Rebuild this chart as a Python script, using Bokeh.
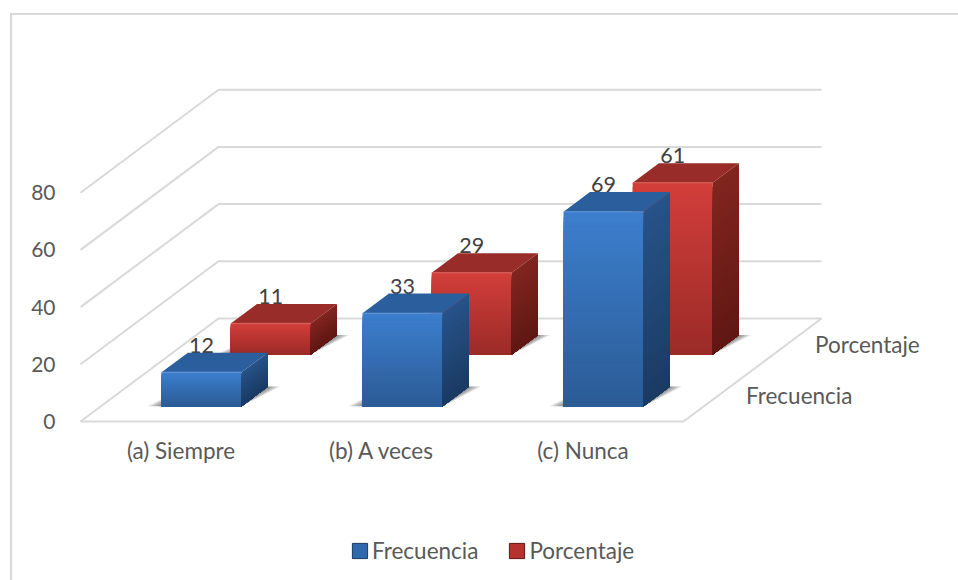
import numpy as np
from bokeh.core.properties import value
from bokeh.embed import file_html
from bokeh.models import FixedTicker, Legend, LegendItem, Range1d
from bokeh.plotting import figure
from bokeh.resources import INLINE

# ---- data ----
categories = ["(a) Siempre", "(b) A veces", "(c) Nunca"]
frecuencia = [12, 33, 69]
porcentaje = [11, 29, 61]
series_names = ["Frecuencia", "Porcentaje"]
y_ticks = [0, 20, 40, 60, 80]

# ---- styles / projection ----
FONT = "Lato"
TXT = "#595959"
GRID = "#d9d9d9"
PX_X = 201.0      # px per category
PX_Y = 2.86       # px per value unit
DX = 138 / PX_X   # full depth offset, in category units
DY = 103 / PX_Y   # full depth offset, in value units
BAR_SCALE = 0.985
BAR_W = 0.398
BAR_L = 0.301
ROWS = [(0.149, 0.34), (0.65, 0.84)]

PAL = [
    dict(ft="#3c7ecd", fb="#2b5b95", st="#275389", sb="#1a3a62", top="#2a5e9c", edge="#5f97dc", sw="#2f68ab"),
    dict(ft="#d23e3a", fb="#9a2a27", st="#82251f", sb="#5f1713", top="#982c29", edge="#e2605b", sw="#b5322e"),
]


def lerp(a, b, t):
    a = np.array([int(a[i:i + 2], 16) for i in (1, 3, 5)])
    b = np.array([int(b[i:i + 2], 16) for i in (1, 3, 5)])
    c = (a + (b - a) * t).round().astype(int)
    return "#%02x%02x%02x" % tuple(c)


def proj(u, d, v):
    return u + d * DX, v + d * DY


border_css = ("linear-gradient(#d9d9d9,#d9d9d9) 10px 13px/948px 2px no-repeat,"
              "linear-gradient(#d9d9d9,#d9d9d9) 10px 13px/2px 567px no-repeat")

p = figure(width=958, height=580, output_backend="svg", toolbar_location=None,
           x_range=Range1d((62 - 80) / PX_X, (958 - 80) / PX_X),
           y_range=Range1d((421 - 580) / PX_Y, 421 / PX_Y),
           min_border_left=62, min_border_right=0, min_border_top=0, min_border_bottom=0,
           outline_line_color=None, background_fill_color=None, border_fill_color=None,
           styles={"background": border_css})
p.grid.visible = False

for ax in (p.yaxis[0], p.xaxis[0]):
    ax.axis_line_color = None
    ax.major_tick_line_color = None
    ax.minor_tick_line_color = None
    ax.major_label_text_font = FONT
    ax.major_label_text_color = TXT
p.yaxis[0].major_label_text_font_size = "21px"
p.xaxis[0].major_label_text_font_size = "22.5px"
p.yaxis[0].ticker = FixedTicker(ticks=y_ticks)
p.yaxis[0].major_label_standoff = 1
p.xaxis[0].ticker = FixedTicker(ticks=[0.5, 1.5, 2.5])
p.xaxis[0].major_label_overrides = {0.5: categories[0], 1.5: categories[1], 2.5: categories[2]}
p.xaxis[0].major_label_standoff = 7
p.xaxis[0].fixed_location = (421 - 423) / PX_Y

# walls and floor
gx, gy = [], []
for t in y_ticks:
    gx.append([0, DX, 3 + DX])
    gy.append([t, t + DY, t + DY])
gx.append([0, 3, 3 + DX])
gy.append([0, 0, DY])
p.multi_line(gx, gy, line_color=GRID, line_width=2)

# depth axis labels
for name, d in zip(series_names, [0.25, 0.75]):
    x, y = proj(3, d, 0)
    p.text([x], [y], text=[name], text_font=value(FONT), text_font_size="22.5px", text_color=TXT,
           text_align="left", text_baseline="middle", x_offset=28)

# data labels (behind the bars)
for vals, (d0, d1) in zip([porcentaje, frecuencia], [ROWS[1], ROWS[0]]):
    for i, v in enumerate(vals):
        x, y = proj(i + BAR_L + BAR_W / 2, d0, v * BAR_SCALE)
        p.text([x], [y], text=[str(v)], text_font=value(FONT), text_font_size="21.5px", text_color="#404040",
               text_align="center", text_baseline="middle", y_offset=-27)

# bars, back row first
N = 40
legend_r = {}
for vals, (d0, d1), pal, name in [(porcentaje, ROWS[1], PAL[1], series_names[1]),
                                  (frecuencia, ROWS[0], PAL[0], series_names[0])]:
    xs, ys, cs = [], [], []
    # soft shadows
    sxs, sys = [], []
    for grow in (1.0, 0.75, 0.5, 0.25):
        for i in range(len(vals)):
            l, r = i + BAR_L, i + BAR_L + BAR_W
            ex = grow * 14 / PX_X
            xa, ya = proj(l - ex, d0, 0)
            xb, yb = proj(r, d0, 0)
            xc, yc = proj(r + ex * 0.85, d1, 0)
            xd, yd = proj(l, d1, 0)
            sxs.append([xa, xb, xc, xd])
            sys.append([ya, yb, yc, yd])
    p.patches(sxs, sys, fill_color="#303030", fill_alpha=0.16, line_color=None)

    for i, v in enumerate(vals):
        h = v * BAR_SCALE
        l, r = i + BAR_L, i + BAR_L + BAR_W
        for k in range(N):
            t0 = k / N
            z1 = h * (1 - t0)
            # each strip reaches down to the base; later strips paint over it, so no seams show
            x1, y1 = proj(l, d0, 0)
            x2, y2 = proj(r, d0, 0)
            x3, y3 = proj(r, d0, z1)
            x4, y4 = proj(l, d0, z1)
            xs.append([x1, x2, x3, x4]); ys.append([y1, y2, y3, y4])
            cs.append(lerp(pal["ft"], pal["fb"], t0))
        for k in range(N):
            t0 = k / N
            z1 = h * (1 - t0)
            x2, y2 = proj(r, d0, 0)
            x3, y3 = proj(r, d0, z1)
            x5, y5 = proj(r, d1, 0)
            x6, y6 = proj(r, d1, z1)
            xs.append([x2, x5, x6, x3]); ys.append([y2, y5, y6, y3])
            cs.append(lerp(pal["st"], pal["sb"], t0))
        # top face
        a = proj(l, d0, h); b = proj(r, d0, h); c = proj(r, d1, h); d = proj(l, d1, h)
        xs.append([a[0], b[0], c[0], d[0]]); ys.append([a[1], b[1], c[1], d[1]])
        cs.append(pal["top"])
    p.patches(xs, ys, fill_color=cs, line_color=None)
    # bevel highlights
    ex, ey = [], []
    for i, v in enumerate(vals):
        h = v * BAR_SCALE
        l, r = i + BAR_L, i + BAR_L + BAR_W
        a = proj(l, d0, h); b = proj(r, d0, h)
        ex.append([a[0], b[0]]); ey.append([a[1], b[1]])
    p.multi_line(ex, ey, line_color=pal["edge"], line_width=1.5, line_alpha=0.6)
    # legend key only: lies outside the visible range
    legend_r[name] = p.quad(left=[-10], right=[-9], top=[1], bottom=[0], fill_color=pal["sw"],
                            line_color=pal["sb"], line_width=1)

legend = Legend(items=[LegendItem(label=n, renderers=[legend_r[n]]) for n in series_names],
                orientation="horizontal", location=(288, 16), border_line_color=None,
                background_fill_alpha=0, label_text_font=FONT, label_text_font_size="22.5px",
                label_text_color=TXT, glyph_width=19, glyph_height=19, spacing=29, label_standoff=3,
                padding=0, margin=0)
p.add_layout(legend)

open("out.html", "w").write(file_html(p, INLINE))
